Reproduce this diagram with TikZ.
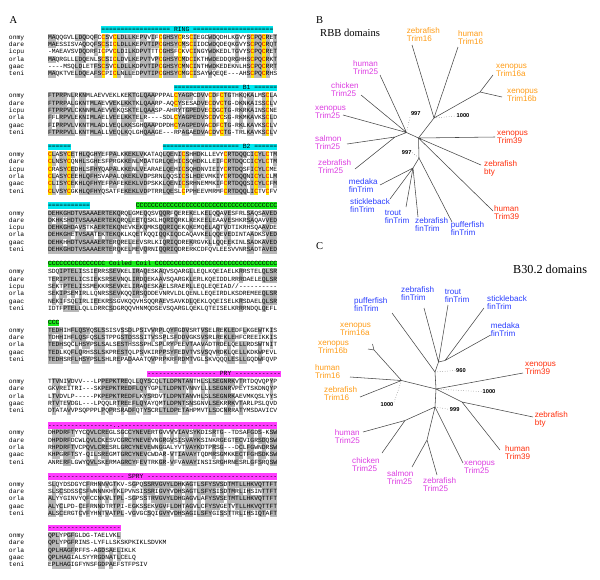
\documentclass[tikz,border=0pt]{standalone}
\usepackage{fontspec}
\setmainfont{Liberation Serif}
\setsansfont{Liberation Sans}
\setmonofont{Liberation Mono}
\usetikzlibrary{positioning}
\definecolor{ringcyan}{RGB}{0,232,240}
\definecolor{coilgreen}{RGB}{25,235,25}
\definecolor{sprymagenta}{RGB}{255,60,255}
\definecolor{cysyellow}{RGB}{255,228,0}
\definecolor{cysred}{RGB}{240,0,0}
\definecolor{trimorange}{RGB}{255,155,20}
\definecolor{trimpink}{RGB}{220,60,225}
\definecolor{trimred}{RGB}{255,45,10}
\definecolor{finblue}{RGB}{40,60,255}

% alignment grid: first column, column width, row pitch
\newcommand\alnx{48}
\newcommand\alnw{3.82}
\newcommand\alndy{7.33}
\newcommand\alnres[3]{\node[res] at ({\alnx+(#1-.5)*\alnw},{#2+1.8}) {#3};}
\newcommand\alngrey[3]{\fill[black!28] ({\alnx+(#1-1)*\alnw-.05},{#2-3.7}) rectangle ++(\alnw+.1,7.4); \alnres{#1}{#2}{#3}}
\newcommand\alncys[3]{\fill[cysyellow] ({\alnx+(#1-1)*\alnw+.2},{#2-3.7}) rectangle ++(\alnw-.4,7.4);
  \node[res, text=cysred] at ({\alnx+(#1-.5)*\alnw},{#2+1.8}) {#3};}
\newcommand\alnname[2]{\node[res, anchor=base west] at (8.8,{#1+1.8}) {#2};}
\newcommand\alnbarfill[4]{\fill[#4] ({\alnx+(#2-1)*\alnw},{#1-3.2}) rectangle ({\alnx+#3*\alnw},{#1+3.2});}

\ExplSyntaxOn
\seq_new:N \l__aln_rows_seq
\seq_new:N \l__aln_names_seq
\clist_new:N \l__aln_cys_clist
\str_new:N \l__aln_bar_str
\tl_new:N \l__aln_char_tl
\tl_new:N \l__aln_name_tl
\tl_new:N \l__aln_y_tl
\int_new:N \l__aln_row_int
\int_new:N \l__aln_hits_int
\bool_new:N \l__aln_gap_bool
\cs_new_protected:Npn \__aln_cell:n #1
  {
    \int_compare:nNnTF { 2 * \l__aln_hits_int } > { \seq_count:N \l__aln_rows_seq }
      { \alngrey {#1} { \l__aln_y_tl } { \l__aln_char_tl } }
      { \alnres {#1} { \l__aln_y_tl } { \l__aln_char_tl } }
  }
% #1 y of first row, #2 names, #3 sequences, #4 cysteine columns
\cs_new_protected:Npn \alnblock #1#2#3#4
  {
    \seq_set_from_clist:Nn \l__aln_names_seq {#2}
    \seq_set_from_clist:Nn \l__aln_rows_seq {#3}
    \clist_set:Nn \l__aln_cys_clist {#4}
    \int_zero:N \l__aln_row_int
    \seq_map_inline:Nn \l__aln_rows_seq
      {
        \int_incr:N \l__aln_row_int
        \tl_set:Nx \l__aln_y_tl { \fp_eval:n { #1 + ( \l__aln_row_int - 1 ) * \alndy } }
        \tl_set:Nx \l__aln_name_tl { \seq_item:Nn \l__aln_names_seq { \l__aln_row_int } }
        \alnname { \l__aln_y_tl } { \l__aln_name_tl }
        \int_step_inline:nn { \str_count:n {##1} }
          {
            \tl_set:Nx \l__aln_char_tl { \str_item:nn {##1} {####1} }
            \int_zero:N \l__aln_hits_int
            \seq_map_inline:Nn \l__aln_rows_seq
              {
                \str_if_eq:eeT { \str_item:nn {########1} {####1} } { \l__aln_char_tl }
                  { \int_incr:N \l__aln_hits_int }
              }
            \bool_set_false:N \l__aln_gap_bool
            \str_if_eq:eeT { \l__aln_char_tl } { - } { \bool_set_true:N \l__aln_gap_bool }
            \str_if_eq:eeT { \l__aln_char_tl } { / } { \bool_set_true:N \l__aln_gap_bool }
            \str_if_eq:eeT { \l__aln_char_tl } { . } { \bool_set_true:N \l__aln_gap_bool }
            \bool_if:NTF \l__aln_gap_bool
              { \alnres {####1} { \l__aln_y_tl } { \l__aln_char_tl } }
              {
                \str_if_eq:eeTF { \l__aln_char_tl } { C }
                  {
                    \clist_if_in:NnTF \l__aln_cys_clist {####1}
                      { \alncys {####1} { \l__aln_y_tl } { \l__aln_char_tl } }
                      { \__aln_cell:n {####1} }
                  }
                  { \__aln_cell:n {####1} }
              }
          }
      }
  }
% #1 y, #2 from col, #3 to col, #4 colour, #5 fill char, #6 label col, #7 label
\cs_new_protected:Npn \alnbar #1#2#3#4#5#6#7
  {
    \alnbarfill {#1} {#2} {#3} {#4}
    \str_set:Nn \l__aln_bar_str {#7}
    \int_step_inline:nnn {#2} {#3}
      {
        \int_set:Nn \l__aln_hits_int { ##1 - #6 + 1 }
        \int_compare:nNnTF { \l__aln_hits_int } < { 0 }
          { \alnres {##1} {#1} {#5} }
          {
            \int_compare:nNnTF { \l__aln_hits_int } > { \str_count:N \l__aln_bar_str + 1 }
              { \alnres {##1} {#1} {#5} }
              {
                \tl_set:Nx \l__aln_char_tl { \str_item:Nn \l__aln_bar_str { \l__aln_hits_int } }
                \tl_if_blank:VF \l__aln_char_tl { \alnres {##1} {#1} { \l__aln_char_tl } }
              }
          }
      }
  }
\ExplSyntaxOff

\begin{document}
\begin{tikzpicture}[x=1pt, y=-1pt,
    res/.style={inner sep=0pt, anchor=base, font=\fontsize{6.36}{7}\selectfont\ttfamily},
    taxon/.style={inner sep=0pt, anchor=west, align=left, font=\fontsize{8.1}{8}\selectfont\sffamily},
    branch/.style={draw=black!72, line width=0.55pt},
    boot/.style={inner sep=0.6pt, font=\fontsize{5.7}{6}\selectfont\sffamily\bfseries},
    bootline/.style={draw=black!60, dotted, line width=0.5pt},
    panel/.style={inner sep=0pt, anchor=base west, font=\fontsize{10.5}{12}\selectfont\rmfamily}]
\useasboundingbox (0,0) rectangle (600,579);

% A: alignment
\node[panel] (pa) at (9.3,23.3) {A};
\alnbar{29.5}{15}{59}{ringcyan}{=}{34}{RING}
\alnblock{37.3}{onmy,dare,icpu,orla,gaac,teni}{
  MAQQGVLLDQDQFCCSVCLDLLKEPVVIFCGHSYCRSCIEGCWDQDHLKGVYSCPQCRET,
  MAESSISVAQDQFSCSICLDLLKEPVTIPCGHSYCMSCIIDCWDQDEQKGVYSCPQCRQT,
  -MAEAVSVDQDRFICPVCLDILKDPVTTTCGHSFCKVCINGYWDKEDLTGVYSCPQCRET,
  MAQRGLLLDQENLSCSICLDVLKEPVTVPCGHSYCMDCIKTHWDEDDQRGHHSCPQCRKT,
  ----MSQLDLETFSCSVCLDLLKDPVTIPCGHSYCMNCINTHWDKEDEKNLHSCPQCRRT,
  MAQKTVELDQEAFSCPICLNLLEDPVTIPCGHSYCMGCISAYWQEQE---AHSCPQCRHS}{15,18,30,35,38,54,57}
\alnbar{88.1}{34}{60}{ringcyan}{=}{52}{B1}
\alnblock{95.9}{onmy,dare,icpu,orla,gaac,teni}{
  FTPRPNLRKNMLAEVVEKLKEKTGLQAAPPPALCYAGPCDVVCDFCTGTHKQKALMSCLA,
  FTPRPALGKNTMLAEVVEKLKKTKLQAARP-AQCYSESADVECDVCTG-DKNKAISSCLV,
  FTPRPVLCKNNMLAEVVEKQSKTELQAASP-AHRYTGPEDVECDGCTG-RKRKAINSCNE,
  FFLRPVLEKNIMLAELVEELKKTELR----SDLCYAGPEDVSCDVCSG-RKMKAVKSCLD,
  FIPRPVLVKNTMLADLVEQLKKSGHQAAPDPDHCYAGPEDVACDFCTG-RKLKAVKSCLV,
  FTPRPVLLKNTMLALLVEQLKQLGHQAAGE---RPAGAEDVACDVCTG-TRLKAVKSCLV}{34,43,46,58}
\alnbar{146.8}{1}{6}{ringcyan}{=}{0}{}
\alnbar{146.8}{31}{60}{ringcyan}{=}{52}{B2}
\alnblock{154.6}{onmy,dare,icpu,orla,gaac,teni}{
  CLASYCETHLQGHYEFPALKKEKLVKATAQLQENICSHHDKLLEVYCRTDQQCICYLCTM,
  CLNSYCQNHLSGHESFPRGKKENLMDATGRLQEHICSQHDKLLEIFCRTDQCCICYLCTM,
  CRASYCEDHLSFHYQAPALKKENLVEARAELQEHICSQHDNVIEIYCRTDQSFICYLCME,
  CLASYCEEHLQFHSVAPALQKEKLVDPSRNLQQSICSLHDEVMKIYCRTDQQNICYLCLM,
  CLISYCEKHLQFHYEFPAFEKEKLVDPSKKLQENICSRHNEMMKIFCRTDQQSICYLCFM,
  CLVSYCGKHLQFHYQSATFEKEKLVDPTRRLQESLCPPHEEVMRMFCRTDQQLICTVCFV}{1,6,36,47,55,58}
\alnbar{205.4}{1}{11}{ringcyan}{=}{0}{}
\alnbar{205.4}{24}{60}{coilgreen}{C}{0}{}
\alnblock{213.2}{onmy,dare,icpu,orla,gaac,teni}{
  DEHKGHDTVSAAAERTEKQRQLGMEQQSVQQRFQEREKELKELQQAVESFRLSAQSAVED,
  DKHKSHDTVSAAAERTEKQRQLEETQSKLHQRIQRKLKEKEELEAAVESHKRSAQAVVED,
  DEHKGHDAVSTKAERTEKQNEVKEKQMKSQQRIQEKQKEMQELAQTVDTIKRHSQAAVDE,
  DEHKGHETVSAATEKTEKQKLKQETKQQIQQKIQDCAQAVKELQQEVEDINTAADKSVED,
  DEHKHHDTVSAAAERTERQRELEEVSRLKIQRIQDREKRGVKLLQQEEKINLSADKAVED,
  DEHKGHDTVSAAAERTERQKELMEVQRNIQQRIQDRERKCDFQVLEESVVNRSADTAVED}{}
\alnbar{264.1}{1}{60}{coilgreen}{C}{17}{Coiled Coil}
\alnblock{271.9}{onmy,dare,icpu,orla,gaac,teni}{
  SDQIPTELISSIERRSSEVKELIRAQESKAQVSQARGLLEQLKQEIAELKRRSTELQLSR,
  TERIPTELICSIEKSRSEVNQLIRDQEKAAVSQARGKLERLKQEIDDLRRRDAELEQLSR,
  SEKTPTELISSMEKKRSEVKELIRAQESKAELSRAERLLEQLEQEIAD//----------,
  SEKIPSEMIRLLQNRSSEVKQQIRSQDDEVNRVLDLQENLLEQEIRDLKSDREMEEQLSR,
  NEKIFSQLIRLIEEKRSSGVKQQVHSQQRAEVSAVKDLQEKLQQEISELKRSDAELQLSR,
  IDTFPTELLQLLDRRCSDGRQQVHNMQDSEVSQARGLQEKLQTEISELKRRRNDQLQEFL}{}
\alnbar{322.7}{1}{3}{coilgreen}{C}{0}{}
\alnblock{330.5}{onmy,dare,orla,gaac,teni}{
  TEDHIHFLQSYQSLSSISVSSDLPSIVVRPLQYFGDVSRTVSELREKLEDFLKGEWTKIS,
  TDHHIHFLQSFQSLSTPPGSTDSSSITVSSPLSFDDVGKSVSRLREKLEHFCREEIKKIS,
  TEDHSQCLHSYPSLSALSESTHSSSPHLSPLRYPEEVTAAVADTRDELQELLRDSWTNIT,
  TEDLKQFLQRHSSLSKPRESTQLPSVKIRPPSYFEDVTVSVSQVRDKLQELLKDKWPEVL,
  TEDHSRFLHSYPSLSHLREPADAAATQVPRPKRFRDMTVGLSKVQQQLESLLGQDWFQVP}{}
\alnbar{374.0}{27}{61}{sprymagenta}{-}{46}{PRY}
\alnblock{381.8}{onmy,dare,orla,gaac,teni}{
  TTVNIVDVV---LPPEPKTREQLLQYSCQLTLDPNTANTHLSLSEGNRKVTRTDQVQPYP,
  GKVREITRI---SKPEPKTREDFLQYYGPLTLDPNTVNNYLLLSEGNRVPEYTSKDNQYP,
  LTVDVLP-----PKPEPKTREDFLKYSRDVTLDPNTANVHLSLSEGNRKAEVMKQSLYYS,
  RTVTEVDGL---LPQQLRTREEFLQYAYQMTLDPNTSNSGNVLSEKRRKVTARLPSLQVD,
  DTATAVVPSQPPPLPQPRSRADFQTYSCRLTLDPETAHPMVTLSDCNRRATYMSDAVICV}{}
\alnbar{425.3}{1}{17}{sprymagenta}{-}{0}{}
\alnbar{425.3}{18}{19}{sprymagenta}{.}{0}{}
\alnbar{425.3}{20}{60}{sprymagenta}{-}{0}{}
\alnblock{433.1}{onmy,dare,orla,gaac,teni}{
  DHPDRFTYYCQVLCREGLSGCCYNEVERTGVVVVIAVSYKDISRTG--TDSAFGDS-KSW,
  DHPDRFDCWLQVLCKESVCGRCYNEVEVNGRGVSISVAYKSINKRGEGTECVIGRSDQSW,
  RHPDRFTVCPQVLCRESRLGRCYNEVEWNGGALYVTVAYKDTPRSG---DCLFGWNDRSW,
  KHPGRFTSY-QILSREGMTGRCYNEVCWDAR-VTIAVAYTQDMRSGMKKECTFGHSDKSW,
  ANRERFLGWYQVLSKERMAGRCYFEVTRKGR-VFVAVAYINSISRGHRNESRLGFSRQSW}{}
\alnbar{476.6}{1}{60}{sprymagenta}{-}{22}{SPRY}
\alnblock{484.4}{onmy,dare,orla,gaac,teni}{
  SLQYDSDGYCFRHNNVGTKV-SGPQSSRVGVYLDHKAGTLSFYSVSDTMTLLHKVQTTFT,
  SLSCSDSSCSFWNNNKHTKLPVNSISSRIGVYVDHSAGTLSFYSISDTMRLIHSINTTFT,
  ALYYGINVYQFCCNKVLTPL-SGPSSTRVGVYLDHGAGVLAFYSVSETMTLLHKVQTTFT,
  ALYCLPD-CEFRNNDTRTPI-EGKSSEKVGVFLDHTAGVLCFYSVGETVTLLHKVQTTFT,
  ALSCERGTCVFYHNTVATPL-VGVGCSQIGVYVDHSAGILSFYGISSTTRLIHSIQTAFT}{}
\alnbar{527.9}{1}{19}{sprymagenta}{-}{0}{}
\alnblock{535.7}{onmy,dare,orla,gaac,teni}{
  QPLYPGFGLDG-TAELVKL,
  QPLYPGFRINS-LYFLLSKSKPKIKLSDVKM,
  QPLHAGFRFFS-AGDSAELIKLK,
  QPLHAGIALSYYRGDNATLCELQ,
  EPLHAGIGFYNSFGDPAEFSTFPSIV}{}

% B: RBB tree
\node[panel] (pb) at (316,23.3) {B};
\node[panel, font=\fontsize{10.6}{12}\selectfont\rmfamily] (pbtitle) at (320,36) {RBB domains};
\coordinate (bc) at (418.5,138);
\coordinate (b16) at (434,118);
\coordinate (b16x) at (480,92);
\coordinate (b25) at (406.5,132.5);
\coordinate (b25sz) at (395,137);
\coordinate (bfin) at (419,158);
\coordinate (bfin2) at (413,168);
\coordinate (bt16z) at (412,45);
\coordinate (bt16h) at (458,47);
\coordinate (bt16a) at (493,75);
\coordinate (bt16b) at (502,97);
\coordinate (bt39x) at (495,137);
\coordinate (btbty) at (481,165);
\coordinate (bt39h) at (493,211);
\coordinate (btpuf) at (452,222);
\coordinate (btzfin) at (418,217);
\coordinate (bttrout) at (406,207);
\coordinate (btstick) at (390,199);
\coordinate (btmed) at (380,185);
\coordinate (bt25z) at (355,169);
\coordinate (bt25s) at (347,144);
\coordinate (bt25x) at (343,115);
\coordinate (bt25c) at (361,95);
\coordinate (bt25h) at (380,75);
\draw[branch] (bc) -- (b16) (b16) -- (bt16z) (b16) -- (bt16h) (b16) -- (b16x) (b16x) -- (bt16a) (b16x) -- (bt16b);
\draw[branch] (bc) -- (bt39x) (bc) -- (btbty) (bc) -- (bt39h);
\draw[branch] (bc) -- (bfin) (bfin) -- (btpuf) (bfin) -- (bfin2) (bfin2) -- (btmed) (bfin2) -- (btstick) (bfin2) -- (bttrout) (bfin2) -- (btzfin);
\draw[branch] (bc) -- (b25) (b25) -- (bt25h) (b25) -- (bt25c) (b25) -- (bt25x) (b25) -- (b25sz) (b25sz) -- (bt25s) (b25sz) -- (bt25z);
\node[boot] (bb16) at (463,116) {1000};
\node[boot] (bb25) at (415.8,113.3) {997};
\node[boot] (bbfin) at (406.7,152.7) {997};
\draw[bootline] (b16) -- (bb16.west);
\draw[bootline] (b25) -- (bb25.south west);
\draw[bootline] (bbfin.east) -- (bfin);
\node[taxon, text=trimorange] (bl16z) at (406.7,34.7) {zebrafish\\Trim16};
\node[taxon, text=trimorange] (bl16h) at (458,37.7) {human\\Trim16};
\node[taxon, text=trimorange] (bl16a) at (496,70) {xenopus\\Trim16a};
\node[taxon, text=trimorange] (bl16b) at (507,95.3) {xenopus\\Trim16b};
\node[taxon, text=trimred] (bl39x) at (497,137.7) {xenopus\\Trim39};
\node[taxon, text=trimred] (blbty) at (484,168.3) {zebrafish\\bty};
\node[taxon, text=trimred] (bl39h) at (494,213) {human\\Trim39};
\node[taxon, text=finblue] (blpuf) at (450.7,228.7) {pufferfish\\finTrim};
\node[taxon, text=finblue] (blzfin) at (415,224.3) {zebrafish\\finTrim};
\node[taxon, text=finblue] (bltrout) at (384.7,216.7) {trout\\finTrim};
\node[taxon, text=finblue] (blstick) at (350,206) {stickleback\\finTrim};
\node[taxon, text=finblue] (blmed) at (348.7,185.7) {medaka\\finTrim};
\node[taxon, text=trimpink] (bl25z) at (318,166.7) {zebrafish\\Trim25};
\node[taxon, text=trimpink] (bl25s) at (315,142.7) {salmon\\Trim25};
\node[taxon, text=trimpink] (bl25x) at (315,112) {xenopus\\Trim25};
\node[taxon, text=trimpink] (bl25c) at (331,89.3) {chicken\\Trim25};
\node[taxon, text=trimpink] (bl25h) at (353,68) {human\\Trim25};

% C: B30.2 tree
\node[panel] (pc) at (316,249.3) {C};
\node[panel, font=\fontsize{12.2}{14}\selectfont\rmfamily] (pctitle) at (513,273.3) {B30.2 domains};
\coordinate (cc) at (436,389);
\coordinate (cfin) at (435,372);
\coordinate (cfin2) at (438.5,362);
\coordinate (cfin3) at (445,360.5);
\coordinate (c16) at (401.5,380.5);
\coordinate (c16x) at (374,350);
\coordinate (c39) at (462,402);
\coordinate (c25) at (435,407);
\coordinate (c25hc) at (405,420.5);
\coordinate (c25sz) at (427,440);
\coordinate (ctpuf) at (392,313);
\coordinate (ctzfin) at (424,308);
\coordinate (cttrout) at (448,305);
\coordinate (ctstick) at (484,308);
\coordinate (ctmed) at (490.7,335);
\coordinate (ct16a) at (372.5,344);
\coordinate (ct16b) at (368,349);
\coordinate (ct16h) at (350,377);
\coordinate (ct16z) at (360,397);
\coordinate (ct39x) at (523,373);
\coordinate (ctbty) at (533,417);
\coordinate (ct39h) at (500,450);
\coordinate (ct25h) at (363,432);
\coordinate (ct25c) at (382,453);
\coordinate (ct25s) at (412,467);
\coordinate (ct25z) at (437,475);
\coordinate (ct25x) at (463,463);
\draw[branch] (cc) -- (cfin) (cfin) -- (ctpuf) (cfin) -- (cfin2) (cfin2) -- (ctzfin) (cfin2) -- (cttrout) (cfin2) -- (cfin3) (cfin3) -- (ctstick) (cfin3) -- (ctmed);
\draw[branch] (cc) -- (c16) (c16) -- (ct16h) (c16) -- (ct16z) (c16) -- (c16x) (c16x) -- (ct16a) (c16x) -- (ct16b);
\draw[branch] (cc) -- (ct39x) (cc) -- (c39) (c39) -- (ctbty) (c39) -- (ct39h);
\draw[branch] (cc) -- (c25) (c25) -- (c25hc) (c25hc) -- (ct25h) (c25hc) -- (ct25c) (c25) -- (c25sz) (c25sz) -- (ct25s) (c25sz) -- (ct25z) (c25) -- (ct25x);
\node[boot] (cbfin) at (461,370.5) {960};
\node[boot] (cbc) at (489,391.7) {1000};
\node[boot] (cb25) at (454.7,409.3) {999};
\node[boot] (cb16) at (387,405) {1000};
\draw[bootline] (cfin) -- (cbfin.west);
\draw[bootline] (cc) -- (cbc.west);
\draw[bootline] (c25) -- (cb25.west);
\draw[bootline] (c16) -- (cb16.north east);
\node[taxon, text=finblue] (clpuf) at (354,305) {pufferfish\\finTrim};
\node[taxon, text=finblue] (clzfin) at (401,293.7) {zebrafish\\finTrim};
\node[taxon, text=finblue] (cltrout) at (444.7,296.3) {trout\\finTrim};
\node[taxon, text=finblue] (clstick) at (487,302.3) {stickleback\\finTrim};
\node[taxon, text=finblue] (clmed) at (490.7,329.7) {medaka\\finTrim};
\node[taxon, text=trimorange] (cl16a) at (340,329.5) {xenopus\\Trim16a};
\node[taxon, text=trimorange] (cl16b) at (318,347.5) {xenopus\\Trim16b};
\node[taxon, text=trimorange] (cl16h) at (315,371.5) {human\\Trim16};
\node[taxon, text=trimorange] (cl16z) at (324,393.5) {zebrafish\\Trim16};
\node[taxon, text=trimred] (cl39x) at (525,368.7) {xenopus\\Trim39};
\node[taxon, text=trimred] (clbty) at (534.7,419.3) {zebrafish\\bty};
\node[taxon, text=trimred] (cl39h) at (505,452.7) {human\\Trim39};
\node[taxon, text=trimpink] (cl25x) at (464,467.3) {xenopus\\Trim25};
\node[taxon, text=trimpink] (cl25z) at (423,485) {zebrafish\\Trim25};
\node[taxon, text=trimpink] (cl25s) at (387,477.5) {salmon\\Trim25};
\node[taxon, text=trimpink] (cl25c) at (352,464.3) {chicken\\Trim25};
\node[taxon, text=trimpink] (cl25h) at (334.7,436.3) {human\\Trim25};
\end{tikzpicture}
\end{document}
